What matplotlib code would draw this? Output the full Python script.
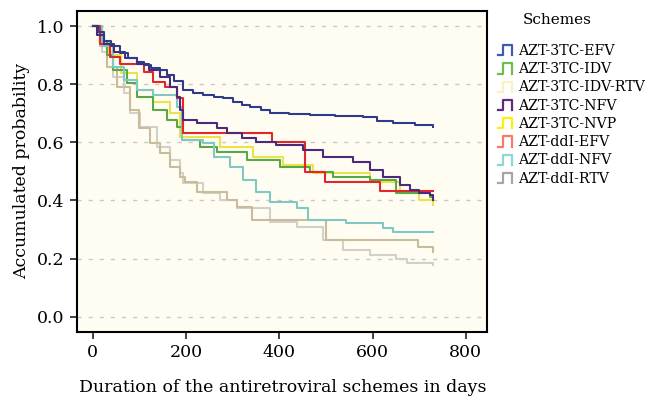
import matplotlib

matplotlib.use("Agg")
import matplotlib.pyplot as plt
from matplotlib.legend_handler import HandlerBase
from matplotlib.lines import Line2D

plt.rcParams["font.family"] = ["DejaVu Serif"]

SCHEMES = [
    "AZT-3TC-EFV",
    "AZT-3TC-IDV",
    "AZT-3TC-IDV-RTV",
    "AZT-3TC-NFV",
    "AZT-3TC-NVP",
    "AZT-ddI-EFV",
    "AZT-ddI-NFV",
    "AZT-ddI-RTV",
]

# survival curves (days, accumulated probability)
efv_3tc_days = [0, 12, 25, 40, 59, 75, 94, 110, 125, 144, 160, 175, 194, 215, 237, 260, 280, 300, 320, 337,
                360, 380, 420, 466, 520, 580, 610, 644, 690, 730]
efv_3tc_prob = [1.0, 0.98, 0.95, 0.93, 0.906, 0.89, 0.877, 0.866, 0.857, 0.849, 0.83, 0.81, 0.78, 0.77, 0.763,
                0.757, 0.751, 0.74, 0.73, 0.722, 0.71, 0.70, 0.697, 0.694, 0.69, 0.688, 0.675, 0.665, 0.66, 0.654]

idv_3tc_days = [0, 15, 30, 44, 73, 94, 130, 159, 180, 191, 230, 266, 330, 401, 466, 516, 594, 651, 723, 730]
idv_3tc_prob = [1.0, 0.95, 0.9, 0.849, 0.803, 0.757, 0.711, 0.677, 0.654, 0.608, 0.585, 0.568, 0.539, 0.516,
                0.499, 0.482, 0.47, 0.424, 0.413, 0.40]

idvrtv_3tc_days = [0, 15, 30, 51, 80, 100, 123, 144, 166, 187, 198, 223, 287, 309, 341, 501, 698, 730]
idvrtv_3tc_prob = [1.0, 0.93, 0.86, 0.791, 0.711, 0.65, 0.596, 0.562, 0.516, 0.482, 0.464, 0.43, 0.401, 0.378,
                   0.333, 0.264, 0.241, 0.224]

nfv_3tc_days = [0, 10, 25, 45, 70, 94, 120, 144, 165, 180, 187, 194, 223, 266, 287, 320, 351, 394, 451, 494,
                559, 594, 623, 659, 680, 700, 723, 730]
nfv_3tc_prob = [1.0, 0.97, 0.94, 0.91, 0.89, 0.871, 0.85, 0.826, 0.79, 0.757, 0.711, 0.677, 0.665, 0.648, 0.631,
                0.615, 0.602, 0.591, 0.573, 0.55, 0.533, 0.505, 0.482, 0.453, 0.436, 0.425, 0.418, 0.40]

nvp_3tc_days = [0, 15, 35, 60, 94, 130, 166, 187, 273, 344, 409, 473, 594, 659, 700, 730]
nvp_3tc_prob = [1.0, 0.95, 0.9, 0.84, 0.78, 0.74, 0.70, 0.619, 0.585, 0.55, 0.522, 0.493, 0.464, 0.424, 0.40,
                0.384]

efv_ddi_days = [0, 16, 37, 59, 109, 130, 155, 180, 194, 384, 455, 498, 616, 730]
efv_ddi_prob = [1.0, 0.94, 0.894, 0.871, 0.843, 0.808, 0.791, 0.751, 0.631, 0.602, 0.499, 0.464, 0.433, 0.433]

nfv_ddi_days = [0, 20, 44, 66, 94, 130, 180, 191, 237, 259, 294, 323, 351, 380, 437, 462, 544, 623, 644, 730]
nfv_ddi_prob = [1.0, 0.93, 0.86, 0.814, 0.78, 0.763, 0.722, 0.608, 0.596, 0.55, 0.516, 0.47, 0.43, 0.396,
                0.373, 0.333, 0.321, 0.304, 0.292, 0.292]

rtv_ddi_days = [0, 20, 44, 66, 80, 101, 137, 166, 187, 194, 237, 273, 309, 380, 437, 494, 537, 594, 651, 673, 730]
rtv_ddi_prob = [1.0, 0.91, 0.826, 0.768, 0.70, 0.654, 0.585, 0.539, 0.493, 0.459, 0.424, 0.401, 0.373, 0.327,
                0.31, 0.264, 0.229, 0.212, 0.20, 0.183, 0.178]

CURVES = [
    (efv_3tc_days, efv_3tc_prob),
    (idv_3tc_days, idv_3tc_prob),
    (idvrtv_3tc_days, idvrtv_3tc_prob),
    (nfv_3tc_days, nfv_3tc_prob),
    (nvp_3tc_days, nvp_3tc_prob),
    (efv_ddi_days, efv_ddi_prob),
    (nfv_ddi_days, nfv_ddi_prob),
    (rtv_ddi_days, rtv_ddi_prob),
]

LINE_COLORS = ["#2e3b8c", "#58a845", "#c9bc9a", "#4b2a7b", "#ece24a", "#e3262b", "#7fc8c4", "#d2d0ca"]
KEY_COLORS = ["#3c5db0", "#6dbe4f", "#fcefc2", "#5e2b7e", "#f9f013", "#f87a6a", "#8fd6d0", "#a5a5a5"]
DRAW_ORDER = [7, 2, 4, 1, 6, 5, 3, 0]


class StepKey(HandlerBase):
    def create_artists(self, legend, orig_handle, xdescent, ydescent, width, height, fontsize, trans):
        xs = [0.0, 0.35 * width, 0.35 * width, 0.9 * width, 0.9 * width]
        ys = [0.0, 0.0, 1.05 * height, 1.05 * height, 0.0]
        line = Line2D([x - xdescent for x in xs], [y - ydescent - 0.5 for y in ys],
                      color=orig_handle.get_color(), lw=1.6)
        line.set_transform(trans)
        return [line]


fig = plt.figure(figsize=(6.52, 4.01), dpi=100)
ax = fig.add_axes([0.1186, 0.1728, 0.6288, 0.8005])
ax.set_facecolor("#fffdf2")

for i in DRAW_ORDER:
    days, prob = CURVES[i]
    ax.step(days, prob, where="post", color=LINE_COLORS[i], lw=1.5, zorder=3)

ax.set_xlim(-33, 846)
ax.set_ylim(-0.052, 1.053)
ax.set_xticks([0, 200, 400, 600, 800])
ax.set_yticks([0.0, 0.2, 0.4, 0.6, 0.8, 1.0])
ax.set_yticklabels(["0.0", "0.2", "0.4", "0.6", "0.8", "1.0"])
ax.yaxis.grid(True, color="#c8c8c8", linestyle=(0, (3, 5)), linewidth=1.0)
ax.set_axisbelow(True)
for spine in ax.spines.values():
    spine.set_linewidth(1.5)
ax.tick_params(axis="both", labelsize=12.5, length=5, width=1.2, color="#222222", pad=4)
ax.set_xlabel("Duration of the antiretroviral schemes in days", fontsize=12.5, labelpad=13)
ax.set_ylabel("Accumulated probability", fontsize=12.5, labelpad=5)

fig.text(0.801, 0.95, "Schemes", fontsize=11, va="center", ha="left")
handles = [Line2D([], [], color=c) for c in KEY_COLORS]
fig.legend(handles, SCHEMES, loc="upper left", bbox_to_anchor=(0.755, 0.905),
           frameon=False, fontsize=10.2, handler_map={Line2D: StepKey()},
           handlelength=1.1, handletextpad=0.3, labelspacing=0.3, borderaxespad=0.0)

fig.savefig("out.png", dpi=100)
